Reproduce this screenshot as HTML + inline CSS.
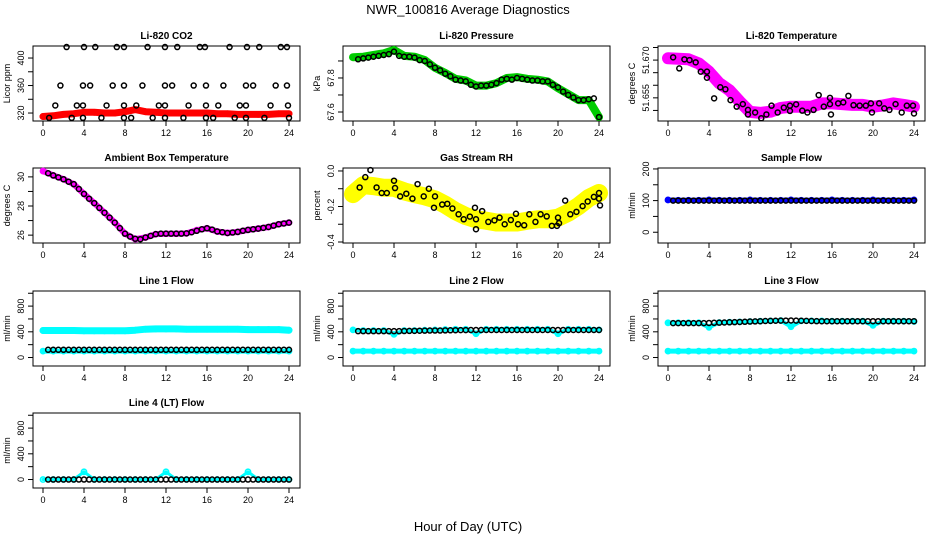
<!DOCTYPE html>
<html><head><meta charset="utf-8"><style>
body{margin:0;background:#fff}
svg{display:block;font-family:"Liberation Sans",sans-serif}
</style></head><body>
<svg id="chart" width="936" height="540" viewBox="0 0 936 540" xmlns="http://www.w3.org/2000/svg">
<rect width="936" height="540" fill="#fff"/>
<text x="468" y="14" text-anchor="middle" font-size="13">NWR_100816  Average Diagnostics</text>
<text x="468" y="531" text-anchor="middle" font-size="13">Hour of Day (UTC)</text>
</svg>
<script>
// ---------- data ----------
const hourTicks = [0,4,8,12,16,20,24];
const hoursHourly = [0,1,2,3,4,5,6,7,8,9,10,11,12,13,14,15,16,17,18,19,20,21,22,23,24];
const hoursHalf = [0.5,1,1.5,2,2.5,3,3.5,4,4.5,5,5.5,6,6.5,7,7.5,8,8.5,9,9.5,10,10.5,11,11.5,12,12.5,13,13.5,14,14.5,15,15.5,16,16.5,17,17.5,18,18.5,19,19.5,20,20.5,21,21.5,22,22.5,23,23.5,24];

const co2Red = [315,316,318,319,321,321,320,320,322,325,322,321,320,320,320,320,320,319,319,318,318,318,318,319,319];
const co2BlackHours = [2.3,4.0,5.1,7.2,7.9,10.2,11.9,13.1,15.3,15.8,18.2,19.9,21.1,23.2,23.8,
 1.7,3.9,4.6,6.8,7.9,9.7,11.9,12.6,14.7,15.9,17.6,19.8,20.5,22.7,23.8,
 1.2,3.3,3.9,6.2,7.9,9.1,11.3,11.9,14.2,15.9,17.1,19.2,19.8,22.2,23.9,
 0.6,2.8,3.9,5.7,7.9,8.6,10.7,11.9,13.7,15.9,16.6,18.7,19.8,21.6,24.0];
const co2BlackVals = [416,416,416,416,416,416,416,416,416,416,416,416,416,416,416,
 360,360,360,360,360,360,360,360,360,360,360,360,360,360,360,
 331,331,331,331,331,331,331,331,331,331,331,331,331,331,331,
 313,313,313,313,313,313,313,313,313,313,313,313,313,313,313];

const presGreen = [67.922,67.925,67.935,67.945,67.965,67.93,67.925,67.905,67.86,67.83,67.795,67.785,67.755,67.755,67.77,67.80,67.805,67.795,67.79,67.78,67.74,67.705,67.67,67.67,67.57];
const presBlack = [67.91,67.915,67.92,67.925,67.93,67.935,67.94,67.955,67.93,67.925,67.925,67.92,67.905,67.90,67.88,67.86,67.845,67.825,67.81,67.79,67.785,67.78,67.76,67.75,67.755,67.755,67.76,67.77,67.79,67.795,67.79,67.80,67.795,67.79,67.785,67.785,67.78,67.78,67.76,67.745,67.72,67.70,67.685,67.67,67.67,67.675,67.68,67.57];

const tempMag = [51.6707,51.6705,51.6703,51.6687,51.6654,51.6608,51.658,51.6535,51.6494,51.6490,51.6495,51.651,51.6515,51.6515,51.6515,51.6528,51.6528,51.6525,51.6522,51.6522,51.6515,51.652,51.6528,51.6522,51.6515];
const tempBlackHours = [0.5,1.1,1.6,2.1,2.7,3.2,3.8,3.8,4.5,5.1,5.6,6.1,6.7,7.3,7.8,7.8,8.5,9.1,9.6,10.1,10.7,11.3,11.9,11.9,12.5,13.1,13.6,14.2,14.7,15.2,15.8,15.8,15.9,16.6,17.1,17.6,18.1,18.7,19.3,19.8,19.9,20.6,21.1,21.6,22.2,22.8,23.3,23.9,24.0];
const tempBlackVals = [51.6711,51.6667,51.6703,51.6700,51.6691,51.6654,51.6654,51.6630,51.6548,51.6592,51.6584,51.6541,51.6515,51.6525,51.6502,51.6484,51.6492,51.6469,51.6484,51.6519,51.6492,51.6511,51.6498,51.6519,51.6524,51.6499,51.6492,51.6502,51.6561,51.6515,51.6550,51.6525,51.6484,51.6528,51.6532,51.6558,51.6521,51.6519,51.6519,51.6528,51.6492,51.6528,51.6508,51.6502,51.6525,51.6492,51.6519,51.6519,51.6488];

const ambMag = [30.4,30.1,29.84,29.5,28.83,28.2,27.54,26.86,26.1,25.73,25.84,26.07,26.1,26.1,26.12,26.34,26.47,26.25,26.15,26.22,26.36,26.45,26.56,26.75,26.86];
const ambBlack = [30.25,30.1,29.97,29.84,29.67,29.5,29.17,28.83,28.5,28.2,27.87,27.54,27.2,26.86,26.48,26.1,25.9,25.75,25.72,25.84,25.95,26.07,26.1,26.1,26.1,26.1,26.1,26.12,26.2,26.3,26.4,26.47,26.38,26.25,26.2,26.15,26.18,26.22,26.3,26.36,26.4,26.45,26.5,26.56,26.65,26.75,26.8,26.86];

const rhYellow = [-0.13,-0.08,-0.085,-0.095,-0.095,-0.115,-0.13,-0.143,-0.16,-0.19,-0.226,-0.254,-0.272,-0.28,-0.29,-0.29,-0.29,-0.28,-0.272,-0.272,-0.263,-0.235,-0.198,-0.152,-0.124];
const rhBlackHours = [0.65,1.2,1.7,2.3,2.8,3.3,4.0,4.1,4.6,5.2,5.8,6.3,6.9,7.4,8.0,7.9,8.7,9.2,9.7,10.3,10.8,11.4,11.9,12.0,12.0,12.6,13.2,13.8,14.3,14.8,15.4,15.9,16.1,16.7,17.2,17.8,18.3,18.9,19.4,19.9,20.0,20.1,20.7,21.2,21.8,22.4,22.9,23.5,24.0,24.0,24.1];
const rhBlackVals = [-0.093,-0.035,0.005,-0.093,-0.124,-0.124,-0.055,-0.096,-0.143,-0.128,-0.156,-0.074,-0.143,-0.1,-0.143,-0.207,-0.189,-0.185,-0.211,-0.244,-0.272,-0.257,-0.207,-0.272,-0.328,-0.226,-0.287,-0.278,-0.263,-0.3,-0.276,-0.241,-0.3,-0.306,-0.244,-0.287,-0.244,-0.256,-0.309,-0.309,-0.263,-0.294,-0.167,-0.244,-0.23,-0.198,-0.172,-0.146,-0.124,-0.156,-0.194];

const sampleBlue = [102,101,101,101,102,101,101,101,102,101,101,101,102,101,101,101,102,101,101,101,102,101,101,101,102];
const sampleBlack = [100,100,100,100,100,100,100,100,100,100,100,100,100,100,100,100,100,100,100,100,100,100,100,100,100,100,100,100,100,100,100,100,100,100,100,100,100,100,100,100,100,100,100,100,100,100,100,100];

const line1CyanHigh = [420,420,420,420,415,415,415,415,415,425,440,445,445,445,440,440,440,440,440,440,435,435,435,435,425];
const line1CyanLow = [100,100,100,100,100,100,100,100,100,100,100,100,100,100,100,100,100,100,100,100,100,100,100,100,100];
const line1Black = [120,120,120,120,120,120,120,120,120,120,120,120,120,120,120,120,120,120,120,120,120,120,120,120,120,120,120,120,120,120,120,120,120,120,120,120,120,120,120,120,120,120,120,120,120,120,120,120];

const line2Cyan = [430,420,420,420,360,420,420,425,430,435,440,440,370,440,440,440,440,440,440,440,370,440,440,440,430];
const line2CyanLow = [100,100,100,100,100,100,100,100,100,100,100,100,100,100,100,100,100,100,100,100,100,100,100,100,100];
const line2Black = [410,410,410,410,410,410,410,410,410,412,414,415,417,418,420,420,420,422,424,425,426,427,428,428,428,428,428,428,428,428,428,428,428,428,428,428,428,428,428,428,428,428,428,428,428,428,428,428];

const line3Cyan = [540,540,540,540,470,545,550,555,560,565,570,575,480,570,570,570,565,565,565,565,500,565,565,565,560];
const line3CyanLow = [100,100,100,100,100,100,100,100,100,100,100,100,100,100,100,100,100,100,100,100,100,100,100,100,100];
const line3Black = [535,535,535,535,535,535,535,538,540,542,545,548,550,553,556,560,562,565,568,570,572,574,575,576,574,572,570,568,566,565,565,565,565,565,565,565,565,565,565,565,565,565,565,565,565,565,565,565];

const line4Cyan = [0,0,0,0,120,0,0,0,0,0,0,0,120,0,0,0,0,0,0,0,120,0,0,0,0];
const line4Black = [0,0,0,0,0,0,0,0,0,0,0,0,0,0,0,0,0,0,0,0,0,0,0,0,0,0,0,0,0,0,0,0,0,0,0,0,0,0,0,0,0,0,0,0,0,0,0,0];

// ---------- drawing ----------
const NS = 'http://www.w3.org/2000/svg';
const svg = document.getElementById('chart');
function mk(tag, attrs, parent){
  const e = document.createElementNS(NS, tag);
  for (const k in attrs) e.setAttribute(k, attrs[k]);
  (parent||svg).appendChild(e);
  return e;
}
const colL = [33, 343, 658];
const rowT = [46, 168, 291, 413];
const BW = 267, BH = 75;

function makePanel(col, row, name, title, ylab, vmin, vmax, ticks, labels){
  const L = colL[col], T = rowT[row];
  const g = mk('g', {});
  
  
  const x = h => L + 10 + h * (246 / 24);
  const y = v => T + BH - (v - vmin) / (vmax - vmin) * BH;
  const t = mk('text', {x: L + BW/2, y: T - 7, 'text-anchor': 'middle', 'font-size': 10, 'font-weight': 'bold'}, g);
  t.textContent = title;
  
  
  const box = mk('rect', {x: L, y: T, width: BW, height: BH, fill: 'none', stroke: '#000', 'stroke-width': 1}, g);
  
  
  const xa = mk('g', {}, g);
  
  
  mk('line', {x1: x(0), x2: x(24), y1: T+BH, y2: T+BH, stroke: '#000'}, xa);
  hourTicks.forEach(h => {
    mk('line', {x1: x(h), x2: x(h), y1: T+BH, y2: T+BH+5, stroke: '#000'}, xa);
    const tl = mk('text', {x: x(h), y: T+BH+15, 'text-anchor': 'middle', 'font-size': 9}, xa);
    tl.textContent = h;
  });
  const ya = mk('g', {}, g);
  
  
  ticks.forEach((v, i) => {
    mk('line', {x1: L-5, x2: L, y1: y(v), y2: y(v), stroke: '#000'}, ya);
    if (labels[i] !== '') {
      const tl = mk('text', {x: L-9, y: y(v), 'text-anchor': 'middle', 'font-size': 9, transform: `rotate(-90 ${L-9} ${y(v)})`}, ya);
      tl.textContent = labels[i];
    }
  });
  const yl = mk('text', {x: L-23, y: T+BH/2, 'text-anchor': 'middle', 'font-size': 9, transform: `rotate(-90 ${L-23} ${T+BH/2})`}, g);
  yl.textContent = ylab;
  
  
  const clip = 'c' + col + row;
  const cp = mk('clipPath', {id: clip}, g);
  mk('rect', {x: L, y: T-4, width: BW, height: BH+8}, cp);
  const plot = mk('g', {'clip-path': `url(#${clip})`}, g);
  return {x, y, g: plot};
}

function band(p, hs, vals, color, w, name){
  const pts = hs.map((h, i) => p.x(h).toFixed(1) + ',' + p.y(vals[i]).toFixed(1)).join(' ');
  const pl = mk('polyline', {points: pts, fill: 'none', stroke: color, 'stroke-width': w, 'stroke-linejoin': 'round', 'stroke-linecap': 'round'}, p.g);
  
  
  hs.forEach((h, i) => {
    const c = mk('circle', {cx: p.x(h), cy: p.y(vals[i]), r: 2.6, fill: 'none', stroke: color, 'stroke-width': 1.6}, p.g);
    
    
  });
}
function points(p, hs, vals, color, name){
  hs.forEach((h, i) => {
    if (i >= vals.length) return;
    const c = mk('circle', {cx: p.x(h), cy: p.y(vals[i]), r: 2.5, fill: 'none', stroke: color, 'stroke-width': 1.5}, p.g);
    
    
  });
}

const flowTicks = [0,200,400,600,800,1000], flowLabels = ['0','','400','','800',''];

let p;
p = makePanel(0,0,'co2','Li-820 CO2','Licor ppm',308.4,417.5,[320,340,360,380,400],['320','','360','','400']);
band(p, hoursHourly, co2Red, '#f00', 7, 'co2-red-series');
points(p, co2BlackHours, co2BlackVals, '#000', 'co2-black-point');

p = makePanel(1,0,'pressure','Li-820 Pressure','kPa',67.547,67.988,[67.6,67.7,67.8,67.9],['67.6','','67.8','']);
band(p, hoursHourly, presGreen, '#00cc00', 8, 'pressure-green-series');
points(p, hoursHalf, presBlack, '#000', 'pressure-black-point');

p = makePanel(2,0,'temperature','Li-820 Temperature','degrees C',51.6458,51.6756,[51.650,51.655,51.660,51.665,51.670,51.675],['','51.655','','','51.670','']);
band(p, hoursHourly, tempMag, '#ff00ff', 12, 'temperature-magenta-series');
points(p, tempBlackHours, tempBlackVals, '#000', 'temperature-black-point');

p = makePanel(0,1,'ambient','Ambient Box Temperature','degrees C',25.46,30.61,[26,27,28,29,30],['26','','28','','30']);
band(p, hoursHourly, ambMag, '#ff00ff', 6, 'ambient-magenta-series');
points(p, hoursHalf, ambBlack, '#000', 'ambient-black-point');

p = makePanel(1,1,'rh','Gas Stream RH','percent',-0.4056,0.0167,[-0.4,-0.3,-0.2,-0.1,0],['-0.4','','-0.2','','0.0']);
band(p, hoursHourly, rhYellow, '#ffff00', 18, 'rh-yellow-series');
points(p, rhBlackHours, rhBlackVals, '#000', 'rh-black-point');

p = makePanel(2,1,'sample-flow','Sample Flow','ml/min',-34,203,[0,50,100,150,200],['0','','100','','200']);
band(p, hoursHourly, sampleBlue, '#0000ff', 5, 'sample-blue-series');
points(p, hoursHalf, sampleBlack, '#000', 'sample-black-point');

p = makePanel(0,2,'line1','Line 1 Flow','ml/min',-132,1035,flowTicks,flowLabels);
band(p, hoursHourly, line1CyanHigh, '#00ffff', 7, 'line1-cyan-high-series');
band(p, hoursHourly, line1CyanLow, '#00ffff', 5, 'line1-cyan-low-series');
points(p, hoursHalf, line1Black, '#000', 'line1-black-point');

p = makePanel(1,2,'line2','Line 2 Flow','ml/min',-132,1035,flowTicks,flowLabels);
band(p, hoursHourly, line2Cyan, '#00ffff', 4, 'line2-cyan-series');
band(p, hoursHourly, line2CyanLow, '#00ffff', 5, 'line2-cyan-low-series');
points(p, hoursHalf, line2Black, '#000', 'line2-black-point');

p = makePanel(2,2,'line3','Line 3 Flow','ml/min',-132,1035,flowTicks,flowLabels);
band(p, hoursHourly, line3Cyan, '#00ffff', 4, 'line3-cyan-series');
band(p, hoursHourly, line3CyanLow, '#00ffff', 5, 'line3-cyan-low-series');
points(p, hoursHalf, line3Black, '#000', 'line3-black-point');

p = makePanel(0,3,'line4','Line 4 (LT) Flow','ml/min',-132,1035,flowTicks,flowLabels);
band(p, hoursHourly, line4Cyan, '#00ffff', 3, 'line4-cyan-series');
points(p, hoursHalf, line4Black, '#000', 'line4-black-point');
</script>
</body></html>
